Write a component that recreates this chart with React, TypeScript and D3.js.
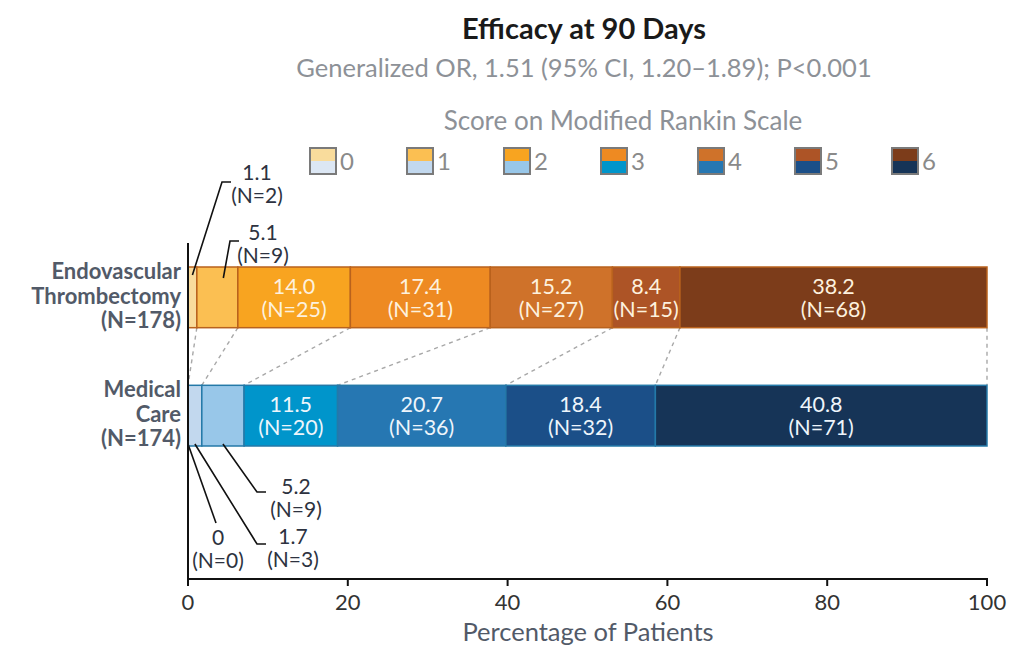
import React from "react";
import * as d3 from "d3";

const scores = ["0", "1", "2", "3", "4", "5", "6"];
const groupNames = ["Endovascular Thrombectomy", "Medical Care"];
const groupLabels = [
  ["Endovascular", "Thrombectomy", "(N=178)"],
  ["Medical", "Care", "(N=174)"],
];
const evtPct = [1.1, 5.1, 14.0, 17.4, 15.2, 8.4, 38.2];
const evtN = [2, 9, 25, 31, 27, 15, 68];
const medPct = [0, 1.7, 5.2, 11.5, 20.7, 18.4, 40.8];
const medN = [0, 3, 9, 20, 36, 32, 71];
const orangeColors = ["#f9dc9c", "#fbbf52", "#f8a420", "#ee8a22", "#cf722a", "#ad5426", "#7c3c1a"];
const blueColors = ["#dce7f4", "#c2d8ee", "#98c7e9", "#0095cb", "#2677b2", "#1b4f88", "#163457"];
const xTicks = [0, 20, 40, 60, 80, 100];

// outside labels for the thin segments: [group, score, elbow x, elbow y, text x, text y]
const outside = [
  [0, 0, 222, 182, 257, 173],
  [0, 1, 230, 241, 263, 233],
  [1, 0, 216, 523, 218, 538],
  [1, 1, 257, 544, 293, 537],
  [1, 2, 257, 492, 296, 487],
];

const font = "Lato, 'Open Sans', sans-serif";

function stack(pct: number[]) {
  const total = d3.sum(pct);
  let acc = 0;
  return pct.map((p) => {
    const s = acc;
    acc += p;
    return [(s / total) * 100, (acc / total) * 100];
  });
}

export default function App() {
  const x = d3.scaleLinear().domain([0, 100]).range([188, 987]);
  const y = d3.scaleBand().domain(groupNames).range([267, 446]).paddingInner(0.487);
  const bw = y.bandwidth();
  const series = [
    { pct: evtPct, n: evtN, colors: orangeColors, stroke: "#b9621d", text: "#fdf1de" },
    { pct: medPct, n: medN, colors: blueColors, stroke: "#2479a8", text: "#eef5fb" },
  ];
  const stacks = series.map((s) => stack(s.pct));
  const axisY = 579;

  return (
    <svg width={1010} height={648} style={{ position: "absolute", left: 0, top: 0 }} fontFamily={font}>
      <rect width={1010} height={648} fill="#fff" />
      <text x={584} y={39} textAnchor="middle" fontSize={29} fontWeight={700} fill="#1a1a1a">
        Efficacy at 90 Days
      </text>
      <text x={584} y={77} textAnchor="middle" fontSize={25.5} fill="#8d9197">
        Generalized OR, 1.51 (95% CI, 1.20–1.89); P&lt;0.001
      </text>
      <text x={623} y={130} textAnchor="middle" fontSize={26} fill="#8d9197">
        Score on Modified Rankin Scale
      </text>
      {scores.map((s, i) => {
        const lx = 310 + i * 97;
        return (
          <g key={s}>
            <rect x={lx} y={148} width={26} height={13} fill={orangeColors[i]} />
            <rect x={lx} y={161} width={26} height={13} fill={blueColors[i]} />
            <rect x={lx} y={148} width={26} height={26} fill="none" stroke="#7a7a7a" strokeWidth={2} />
            <text x={lx + 30} y={170} fontSize={24} fill="#8a8a8a">
              {s}
            </text>
          </g>
        );
      })}

      {/* dashed connectors between bar boundaries */}
      {stacks[0].map((seg, i) => (
        <line
          key={"d" + i}
          x1={x(seg[1])}
          y1={(y(groupNames[0]) as number) + bw}
          x2={x(stacks[1][i][1])}
          y2={y(groupNames[1]) as number}
          stroke="#a8a8a8"
          strokeWidth={1.4}
          strokeDasharray="4,4"
        />
      ))}

      {series.map((s, g) => {
        const y0 = y(groupNames[g]) as number;
        return (
          <g key={g}>
            {stacks[g].map((seg, i) => (
              <rect
                key={i}
                x={x(seg[0])}
                y={y0}
                width={x(seg[1]) - x(seg[0])}
                height={bw}
                fill={s.colors[i]}
                stroke={s.stroke}
                strokeWidth={1.5}
              />
            ))}
            {stacks[g].map((seg, i) =>
              s.pct[i] >= 6 ? (
                <text key={"t" + i} x={(x(seg[0]) + x(seg[1])) / 2} textAnchor="middle" fontSize={21.5} fill={s.text}>
                  <tspan x={(x(seg[0]) + x(seg[1])) / 2} y={y0 + 27}>
                    {s.pct[i].toFixed(1)}
                  </tspan>
                  <tspan x={(x(seg[0]) + x(seg[1])) / 2} y={y0 + 50}>
                    (N={s.n[i]})
                  </tspan>
                </text>
              ) : null
            )}
            {groupLabels[g].map((l, k) => (
              <text key={"g" + k} x={181} y={y0 + 12 + k * 24.5} textAnchor="end" fontSize={22} fontWeight={700} fill="#525a68">
                {l}
              </text>
            ))}
          </g>
        );
      })}

      {outside.map(([g, i, ex, ey, tx, ty], k) => {
        const seg = stacks[g][i];
        const y0 = y(groupNames[g]) as number;
        const pct = (g === 0 ? evtPct : medPct)[i];
        const n = (g === 0 ? evtN : medN)[i];
        const sx = g === 0 ? x((seg[0] + seg[1]) / 2) + (i === 1 ? 6 : 0) : x((seg[0] + seg[1]) / 2);
        const sy = g === 0 ? y0 + (i === 0 ? 8 : 11) : y0 + bw - 2;
        const d = i === 0 && g === 1 ? `M${sx},${sy}L${ex},${ey}` : `M${sx},${sy}L${ex},${ey}H${ex + 9}`;
        return (
          <g key={"o" + k}>
            <path d={d} fill="none" stroke="#111" strokeWidth={1.6} />
            <text x={tx} textAnchor="middle" fontSize={21} fill="#2d3240">
              <tspan x={tx} y={ty + 7}>
                {pct === 0 ? "0" : pct.toFixed(1)}
              </tspan>
              <tspan x={tx} y={ty + 30}>
                (N={n})
              </tspan>
            </text>
          </g>
        );
      })}

      {/* axes */}
      <line x1={188} y1={243} x2={188} y2={axisY} stroke="#111" strokeWidth={2} />
      <line x1={187} y1={axisY} x2={988} y2={axisY} stroke="#111" strokeWidth={2} />
      {xTicks.map((t) => (
        <g key={t}>
          <line x1={x(t)} x2={x(t)} y1={axisY} y2={axisY + 7} stroke="#111" strokeWidth={2} />
          <text x={x(t)} y={610} textAnchor="middle" fontSize={22} fill="#333">
            {t}
          </text>
        </g>
      ))}
      <text x={588} y={641} textAnchor="middle" fontSize={25.5} fill="#525a68">
        Percentage of Patients
      </text>
    </svg>
  );
}
